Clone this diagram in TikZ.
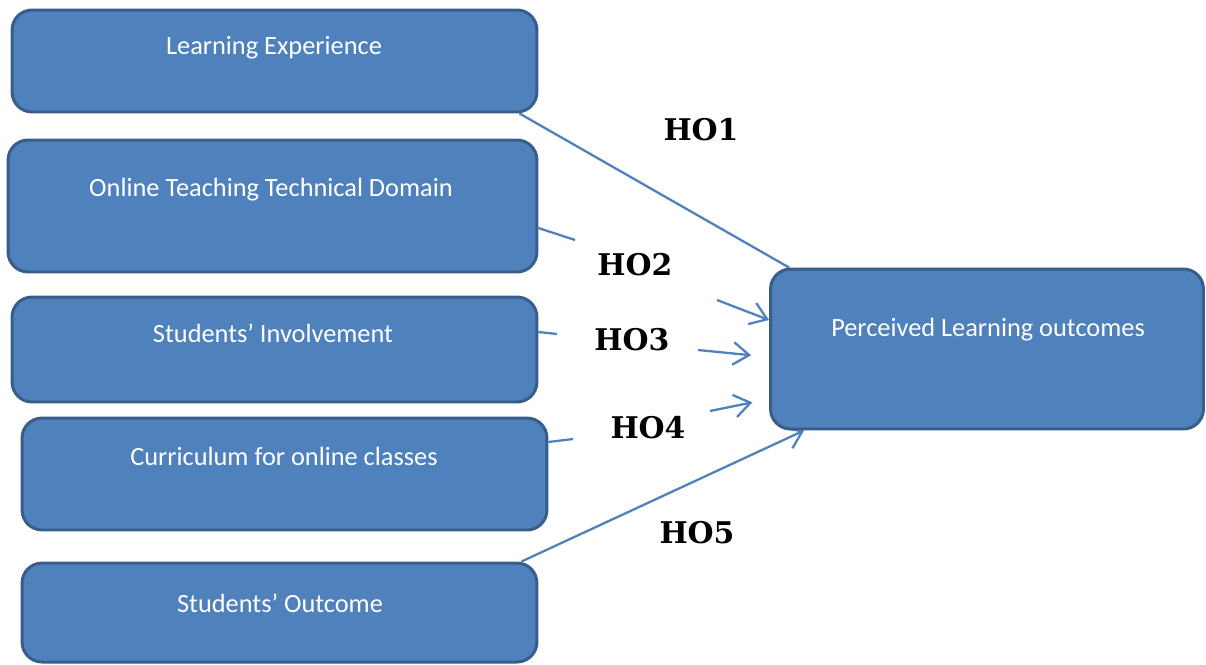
\documentclass[tikz,border=0pt]{standalone}
\usepackage{fontspec}
\setmainfont{Carlito}
\newfontfamily\hofont{DejaVu Serif}
\usetikzlibrary{arrows.meta,backgrounds}
\definecolor{boxblue}{RGB}{79,129,189}
\definecolor{boxedge}{RGB}{56,93,138}

\begin{document}
\begin{tikzpicture}[x=0.02cm, y=-0.02cm,
factor/.style={draw=boxedge, line width=1.7pt, fill=boxblue, rounded corners=0.4cm, minimum width=10.5cm},
factortext/.style={text=white, font=\fontsize{15}{17}\selectfont},
hyp/.style={font=\hofont\bfseries\fontsize{17}{19}\selectfont},
link/.style={draw=boxblue, line width=1.3pt},
linkarrow/.style={link, -{Straight Barb[length=0.32cm,width=0.45cm]}}]
\useasboundingbox (0,0) rectangle (1206,664);
\node[factor, minimum height=2.04cm] (le) at (274.5,61) {};
\node[factor, minimum height=2.64cm, minimum width=10.58cm] (ottd) at (272.5,206) {};
\node[factor, minimum height=2.1cm] (si) at (274.5,349.5) {};
\node[factor, minimum height=2.24cm] (coc) at (284.5,474) {};
\node[factor, minimum height=1.98cm, minimum width=10.3cm] (so) at (279.5,612.5) {};
\node[factor, minimum height=3.2cm, minimum width=8.66cm] (plo) at (987,349) {};
\node[factortext] (le-t) at (274,48) {Learning Experience};
\node[factortext] (ottd-t) at (271,190) {Online Teaching Technical Domain};
\node[factortext] (si-t) at (273,333) {Students’ Involvement};
\node[factortext] (coc-t) at (284,456) {Curriculum for online classes};
\node[factortext] (so-t) at (280,603) {Students’ Outcome};
\node[factortext] (plo-t) at (988,330) {Perceived Learning outcomes};
\node[hyp] (ho1) at (701,130) {HO1};
\node[hyp] (ho2) at (635,265) {HO2};
\node[hyp] (ho3) at (632,340) {HO3};
\node[hyp] (ho4) at (648,428) {HO4};
\node[hyp] (ho5) at (697,533) {HO5};
\coordinate (h2a) at (575,240);
\coordinate (h2b) at (717,300);
\coordinate (h3a) at (557,334);
\coordinate (h3b) at (698,350);
\coordinate (h4a) at (573,439);
\coordinate (h4b) at (710,411);
\begin{scope}[on background layer]
\draw[link] ([xshift=-0.38cm]le.south east) -- ([xshift=0.4cm]plo.north west);
\draw[link] ([yshift=-0.44cm]ottd.east) -- (h2a);
\draw[linkarrow] (h2b) -- ([yshift=0.58cm]plo.west);
\draw[link] ([yshift=0.35cm]si.east) -- (h3a);
\draw[linkarrow, shorten >=0.36cm] (h3b) -- ([yshift=-0.16cm]plo.west);
\draw[link] ([yshift=0.64cm]coc.east) -- (h4a);
\draw[linkarrow, shorten >=0.34cm] (h4b) -- ([yshift=-1cm]plo.west);
\draw[linkarrow] ([xshift=-0.34cm]so.north east) -- ([xshift=0.7cm]plo.south west);
\end{scope}
\end{tikzpicture}
\end{document}
